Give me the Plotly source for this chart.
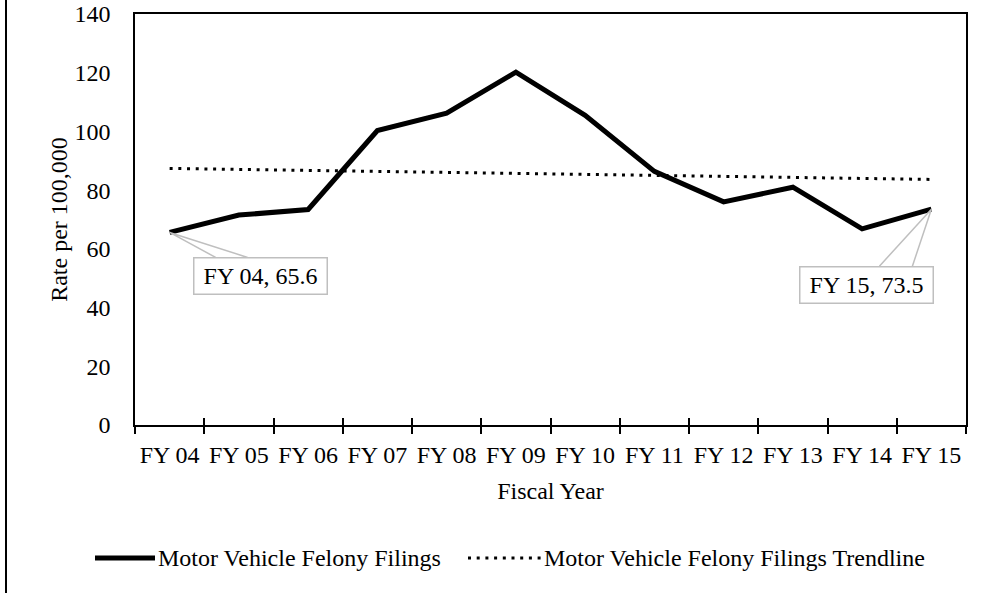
import numpy as np
import plotly.graph_objects as go

# Fiscal years and motor vehicle felony filing rates (per 100,000)
years = ["FY 04", "FY 05", "FY 06", "FY 07", "FY 08", "FY 09",
         "FY 10", "FY 11", "FY 12", "FY 13", "FY 14", "FY 15"]
rate = [65.6, 71.5, 73.4, 100.3, 106.2, 120.2, 105.5, 86.4, 76.0, 81.0, 66.8, 73.5]
y_ticks = [0, 20, 40, 60, 80, 100, 120, 140]

series_name = "Motor Vehicle Felony Filings"
trend_name = "Motor Vehicle Felony Filings Trendline"

# Linear least-squares trendline over the filing rates
idx = np.arange(len(years))
slope, intercept = np.polyfit(idx, rate, 1)
trend = slope * idx + intercept

FONT = "Liberation Serif, Times New Roman, serif"
FS = 24
W, H = 989, 593
L, R, T, B = 135, 23, 14, 168
PW, PH = W - L - R, H - T - B


def px_x(px):
    return (px - L) / PW


def px_y(py):
    return (H - B - py) / PH


fig = go.Figure()

fig.add_trace(go.Scatter(
    x=years, y=trend, mode="lines", name=trend_name, showlegend=False,
    line=dict(color="black", width=3, dash="3px,5.7px"),
    hoverinfo="skip",
))
fig.add_trace(go.Scatter(
    x=years, y=rate, mode="lines", name=series_name, showlegend=False,
    xaxis="x2",
    line=dict(color="black", width=5),
))

# Callout labels for the first and last fiscal years
callouts = [
    dict(i=0, xanchor="left", xshift=23, yshift=-25, wedge="M46,-25 L0,0 L78,-25"),
    dict(i=len(years) - 1, xanchor="right", xshift=3, yshift=-57,
         wedge="M-52,-57 L0,0 L-19,-57"),
]
for c in callouts:
    i = c["i"]
    fig.add_shape(
        type="path", xref="x", yref="y", xsizemode="pixel", ysizemode="pixel",
        xanchor=years[i], yanchor=rate[i], path=c["wedge"],
        line=dict(color="#bfbfbf", width=1.5), layer="above",
    )
    fig.add_annotation(
        x=years[i], y=rate[i], xref="x", yref="y",
        text=f"{years[i]}, {rate[i]}", showarrow=False,
        xanchor=c["xanchor"], yanchor="top", xshift=c["xshift"], yshift=c["yshift"],
        bgcolor="white", bordercolor="#bfbfbf", borderwidth=1.5, borderpad=2,
        width=128, height=31,
        font=dict(family=FONT, size=FS, color="black"),
    )

# Legend drawn below the axis title
legend_y = px_y(558)
fig.add_shape(type="line", xref="paper", yref="paper",
              x0=px_x(95), x1=px_x(155), y0=legend_y, y1=legend_y,
              line=dict(color="black", width=5))
fig.add_annotation(x=px_x(156), y=legend_y, xref="paper", yref="paper",
                   text=series_name, showarrow=False, xanchor="left", yanchor="middle",
                   font=dict(family=FONT, size=FS, color="black"))
fig.add_shape(type="line", xref="paper", yref="paper",
              x0=px_x(468), x1=px_x(541), y0=legend_y, y1=legend_y,
              line=dict(color="black", width=3, dash="3px,5.7px"))
fig.add_annotation(x=px_x(542), y=legend_y, xref="paper", yref="paper",
                   text=trend_name, showarrow=False, xanchor="left", yanchor="middle",
                   font=dict(family=FONT, size=FS, color="black"))

# Outer chart frame (left edge)
fig.add_shape(type="line", xref="paper", yref="paper",
              x0=px_x(6), x1=px_x(6), y0=px_y(H + 5), y1=px_y(-5),
              line=dict(color="black", width=2))

cat_axis = dict(
    type="category", categoryorder="array", categoryarray=years,
    range=[-0.5, len(years) - 0.5], tickson="boundaries", showgrid=False,
    zeroline=False, fixedrange=True, automargin=False,
)

fig.update_layout(
    width=W, height=H,
    margin=dict(l=L, r=R, t=T, b=B, autoexpand=False),
    paper_bgcolor="white", plot_bgcolor="white",
    font=dict(family=FONT, size=FS, color="black"),
    showlegend=False,
    xaxis=dict(
        **cat_axis,
        ticks="outside", ticklen=7, tickwidth=1.5, tickcolor="black",
        showline=True, linewidth=1.5, linecolor="black", mirror=True,
        tickfont=dict(family=FONT, size=FS, color="black"),
        tickangle=0, ticklabelstandoff=7,
        title=dict(text="Fiscal Year", font=dict(family=FONT, size=FS), standoff=16),
    ),
    xaxis2=dict(
        **cat_axis,
        overlaying="x", anchor="y", side="bottom",
        ticks="inside", ticklen=7, tickwidth=1.5, tickcolor="black",
        showline=False, showticklabels=False,
    ),
    yaxis=dict(
        range=[0, 140], tickvals=y_ticks, ticks="", showgrid=False, zeroline=False,
        showline=True, linewidth=1.5, linecolor="black", mirror=True,
        tickfont=dict(family=FONT, size=FS, color="black"),
        ticklabelstandoff=18, automargin=False,
        title=dict(text="Rate per 100,000", font=dict(family=FONT, size=FS), standoff=0),
        fixedrange=True,
    ),
)

fig.write_html("out.html")
